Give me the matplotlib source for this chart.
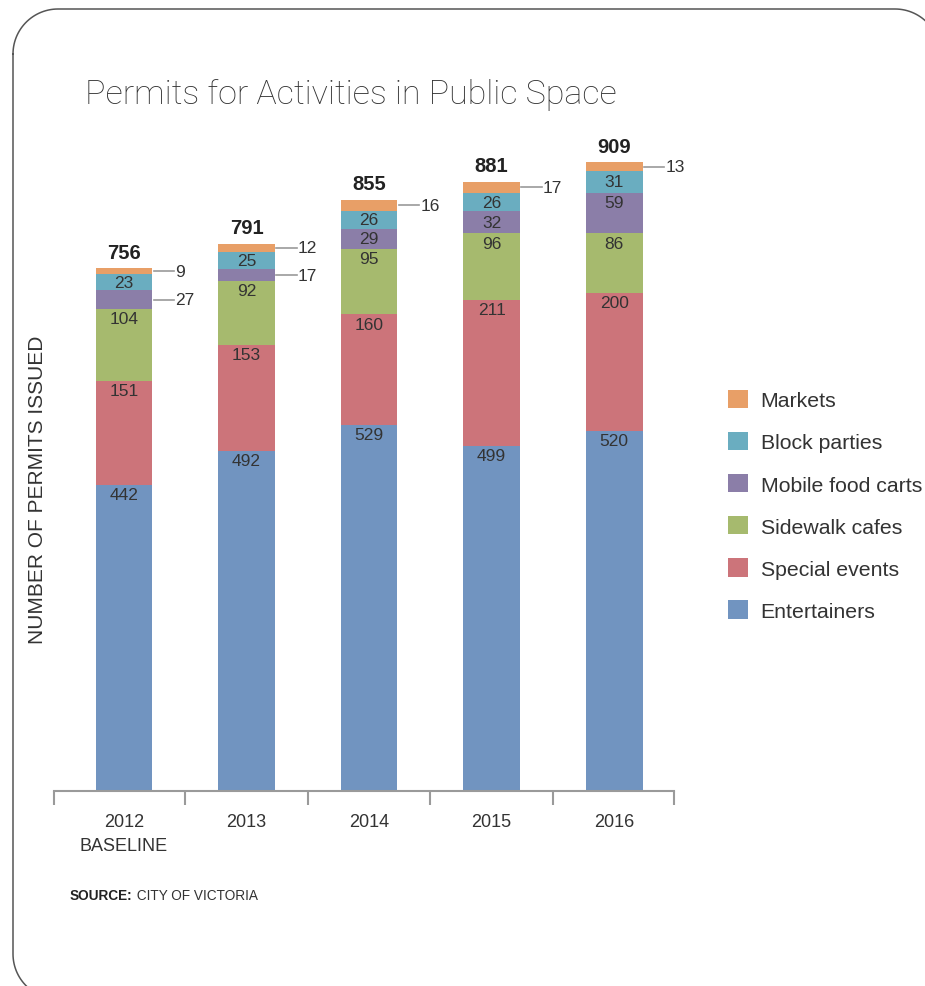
import matplotlib.pyplot as plt
import numpy as np

plt.rcParams['font.family'] = ['Liberation Sans', 'DejaVu Sans']

# data
years = ['2012\nBASELINE', '2013', '2014', '2015', '2016']
series_names = ['Entertainers', 'Special events', 'Sidewalk cafes',
                'Mobile food carts', 'Block parties', 'Markets']
entertainers = [442, 492, 529, 499, 520]
special_events = [151, 153, 160, 211, 200]
sidewalk_cafes = [104, 92, 95, 96, 86]
mobile_food_carts = [27, 17, 29, 32, 59]
block_parties = [23, 25, 26, 26, 31]
markets = [9, 12, 16, 17, 13]
totals = [756, 791, 855, 881, 909]

series = [entertainers, special_events, sidewalk_cafes,
          mobile_food_carts, block_parties, markets]
colors = ['#7194c0', '#cc747a', '#a6ba6e', '#8b7ea8', '#6aadc0', '#e89f67']

# (bar, series) labels drawn outside with a leader line
outside = [(0, 5), (0, 3), (1, 5), (1, 3), (2, 5), (3, 5), (4, 5)]

txt_col = '#333333'
gray = '#9a9a9a'

fig = plt.figure(figsize=(9.25, 9.87), dpi=100)

# background axes in pixel units for the rounded frame
bg = fig.add_axes([0, 0, 1, 1], zorder=-1)
bg.set_xlim(0, 925)
bg.set_ylim(987, 0)
bg.axis('off')


def rounded_frame(x0, y0, x1, y1, r):
    # corners: top-left, top-right, bottom-right, bottom-left (y down)
    pts = []
    for cx, cy, a0 in [(x0 + r, y0 + r, 180), (x1 - r, y0 + r, 270),
                       (x1 - r, y1 - r, 0), (x0 + r, y1 - r, 90)]:
        t = np.radians(np.linspace(a0, a0 + 90, 30))
        pts.append(np.column_stack([cx + r * np.cos(t), cy + r * np.sin(t)]))
    pts = np.vstack(pts + [pts[0][:1]])
    return pts[:, 0], pts[:, 1]


fx, fy = rounded_frame(13, 10, 940, 1000, 45)
bg.plot(fx, fy, color='#555555', lw=1.1, clip_on=False)

ax = fig.add_axes([53.7 / 925, 1 - 792 / 987, 620 / 925, 662 / 987])

x = np.arange(len(years))
w = 0.4625
bottom = np.zeros(len(years))
handles = []
for vals, col, name in zip(series, colors, series_names):
    b = ax.bar(x, vals, w, bottom=bottom, color=col, label=name, linewidth=0)
    handles.append(b)
    bottom += np.array(vals)

# segment labels
bottom = np.zeros(len(years))
for si, vals in enumerate(series):
    for i, v in enumerate(vals):
        top = bottom[i] + v
        if (i, si) in outside:
            yc = bottom[i] + v / 2
            x0 = x[i] + w / 2 + 0.012
            ax.plot([x0, x0 + 0.165], [yc, yc], color=gray, lw=1.2, clip_on=False)
            ax.text(x0 + 0.175, yc, str(v), va='center', ha='left',
                    fontsize=12.5, color=txt_col)
        else:
            yc = top - 14 if v >= 40 else bottom[i] + v / 2
            ax.text(x[i], yc, str(v), va='center', ha='center',
                    fontsize=12.5, color=txt_col)
    bottom += np.array(vals)

for i, t in enumerate(totals):
    ax.text(x[i], t + 23, str(t), ha='center', va='center', fontsize=14.5,
            fontweight='bold', color='#222222')

ax.set_xlim(-0.573, 4.485)
ax.set_ylim(0, 957)
ax.set_yticks([])
for s in ['left', 'top', 'right']:
    ax.spines[s].set_visible(False)
ax.spines['bottom'].set_color(gray)
ax.spines['bottom'].set_linewidth(1.5)

ax.set_xticks([-0.573, 0.5, 1.5, 2.5, 3.5, 4.485])
ax.set_xticklabels([])
ax.tick_params(axis='x', which='major', length=10, width=1.5, color=gray)
ax.set_xticks(x, minor=True)
ax.set_xticklabels(years, minor=True, fontsize=13, color=txt_col,
                   linespacing=1.55)
ax.tick_params(axis='x', which='minor', length=0, pad=16)

ax.legend(handles[::-1], series_names[::-1], loc='upper left',
          bbox_to_anchor=(728 / 925, 1 - 391 / 987), bbox_transform=fig.transFigure,
          frameon=False, fontsize=15.3, handlelength=0.94, handleheight=0.94,
          handletextpad=0.6, labelspacing=1.02, borderpad=0, borderaxespad=0,
          labelcolor=txt_col)

fig.text(85 / 925, 1 - 95 / 987, 'Permits for Activities in Public Space',
         fontsize=24.5, family=['Roboto', 'DejaVu Sans'], fontweight='light',
         color=txt_col, va='center', ha='left')
fig.text(38 / 925, 1 - 490 / 987, 'NUMBER OF PERMITS ISSUED', rotation=90,
         fontsize=15, color=txt_col, va='center', ha='center')

src = fig.text(70 / 925, 1 - 900 / 987, 'SOURCE:', fontsize=9.8,
               fontweight='bold', color='#222222', va='baseline')
ax.annotate(' CITY OF VICTORIA', xy=(1, 0), xycoords=src, fontsize=9.8,
            color=txt_col, va='bottom', annotation_clip=False)

fig.savefig('out.png', dpi=100)
